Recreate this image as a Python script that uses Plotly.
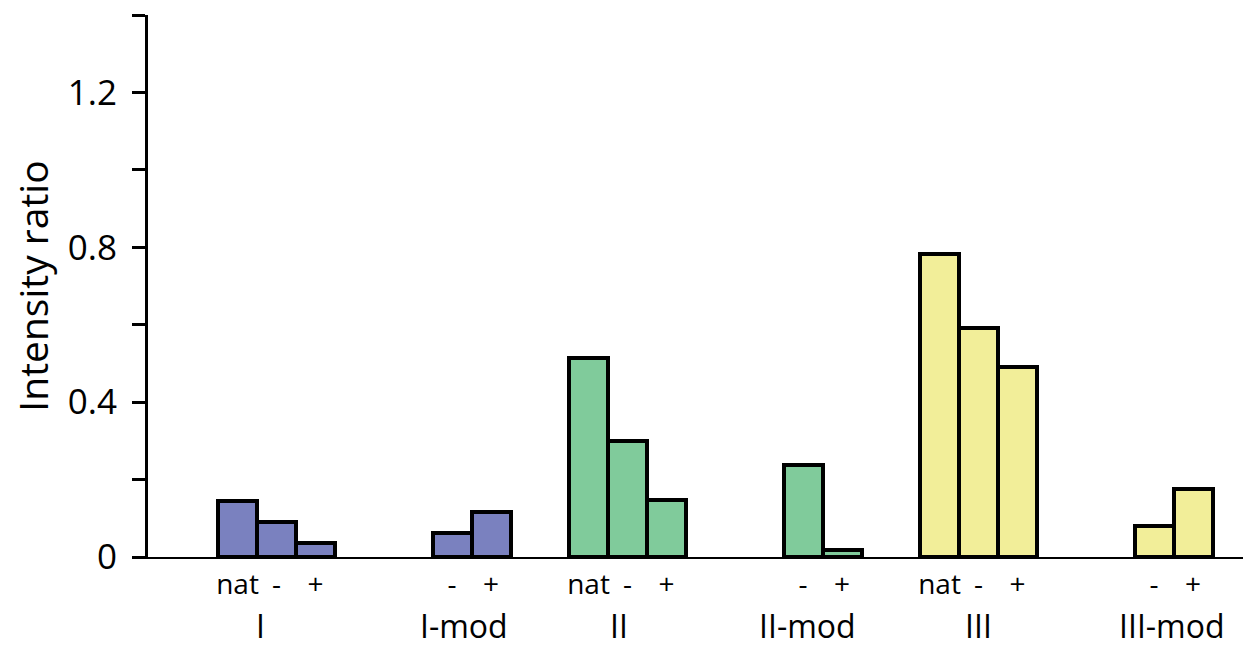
import plotly.graph_objects as go

# Intensity ratios per sample; each family has a native set (nat, -, +) and a modified set (-, +)
families = ["I", "II", "III"]
native_labels = ["nat", "-", "+"]
mod_labels = ["-", "+"]

native_values = {
    "I": [0.145, 0.090, 0.035],
    "II": [0.513, 0.300, 0.147],
    "III": [0.782, 0.591, 0.490],
}
mod_values = {
    "I": [0.062, 0.116],
    "II": [0.237, 0.018],
    "III": [0.080, 0.175],
}

colors = {"I": "#7a81bf", "II": "#80cb9b", "III": "#f2ee99"}

# slot layout: native bars at 0,1,2; modified bars at 5.5,6.5; period 9 per family
native_offsets = [0, 1, 2]
mod_offsets = [5.5, 6.5]
period = 9
# horizontal placement of the family captions, in slots from the family start
native_caption_offset = {"I": 0.58, "II": 0.77, "III": 0.99}
mod_caption_offset = {"I": 5.81, "II": 5.62, "III": 5.96}

fig = go.Figure()
tickvals, ticktext = [], []
group_label_pos = []
for k, fam in enumerate(families):
    base = k * period
    xs = [base + o for o in native_offsets]
    fig.add_trace(go.Bar(
        x=xs, y=native_values[fam], width=1,
        marker=dict(color=colors[fam], line=dict(color="black", width=4)),
        showlegend=False,
    ))
    tickvals += xs
    ticktext += native_labels
    group_label_pos.append((base + native_caption_offset[fam], fam))

    xm = [base + o for o in mod_offsets]
    fig.add_trace(go.Bar(
        x=xm, y=mod_values[fam], width=1,
        marker=dict(color=colors[fam], line=dict(color="black", width=4)),
        showlegend=False,
    ))
    tickvals += xm
    ticktext += mod_labels
    group_label_pos.append((base + mod_caption_offset[fam], fam + "-mod"))

for xpos, text in group_label_pos:
    fig.add_annotation(
        x=xpos, y=-0.1255, xref="x", yref="paper", yanchor="middle",
        text=text, showarrow=False, borderpad=0,
        font=dict(size=32, color="black", family="Open Sans"),
    )

fig.update_layout(
    width=1243, height=647,
    margin=dict(l=148, r=0, t=15, b=90),
    paper_bgcolor="white", plot_bgcolor="white",
    font=dict(family="Open Sans", color="black"),
    bargap=0,
)

fig.update_xaxes(
    range=[-2.295, 25.78],
    tickvals=tickvals, ticktext=ticktext,
    tickfont=dict(size=28, color="black"),
    ticks="", showgrid=False, zeroline=False,
    showline=True, linecolor="black", linewidth=2,
    ticklabelstandoff=1,
)

fig.update_yaxes(
    range=[0, 1.4],
    tickvals=[0, 0.2, 0.4, 0.6, 0.8, 1.0, 1.2, 1.4],
    ticktext=["0", "", "0.4", "", "0.8", "", "1.2", ""],
    tickfont=dict(size=35, color="black"),
    ticks="outside", ticklen=13, tickwidth=3, tickcolor="black",
    showline=True, linecolor="black", linewidth=3,
    showgrid=False, zeroline=False,
    ticklabelstandoff=8,
    title=dict(text="Intensity ratio", font=dict(size=39, color="black"), standoff=8),
)

fig.write_html("out.html")
